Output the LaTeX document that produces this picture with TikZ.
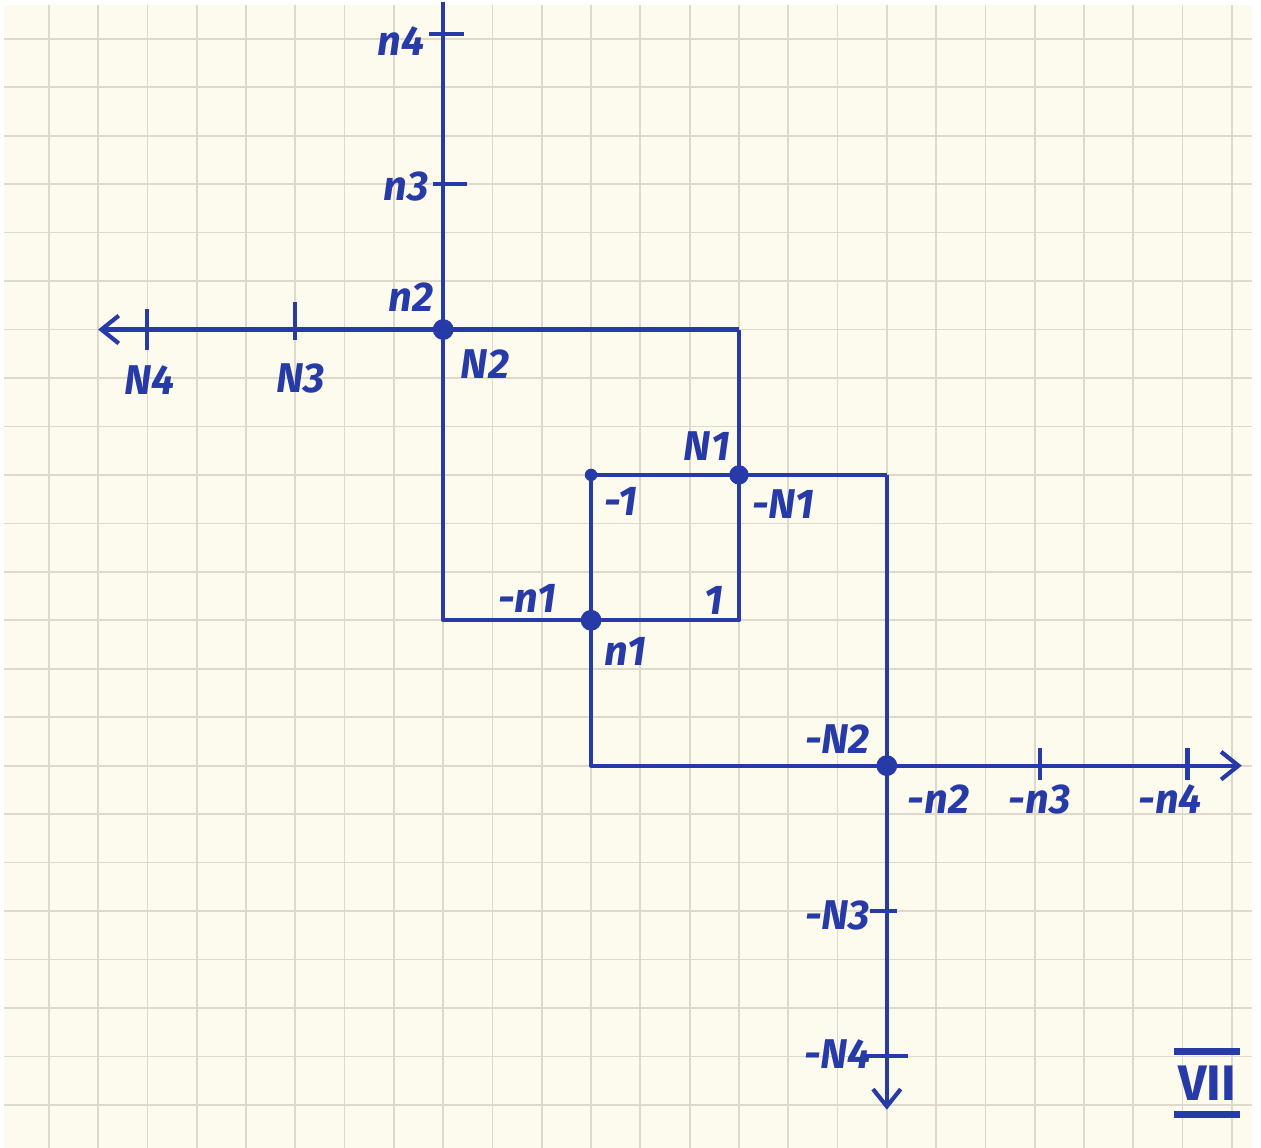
\documentclass[tikz,border=0pt]{standalone}
\usepackage{fontspec}
\newfontfamily\handfont{Fira Sans}
\usetikzlibrary{arrows.meta}
\definecolor{ink}{RGB}{38,58,168}
\definecolor{paper}{RGB}{253,250,238}
\definecolor{gridline}{RGB}{222,217,203}
\tikzset{
  axisline/.style={ink, line width=1.2pt, line join=round},
  tickmark/.style={ink, line width=1.2pt},
  lbl/.style={ink, font=\handfont\itshape\bfseries\large, inner sep=1pt},
  barb/.style={-{Straight Barb[length=5pt,width=8pt,line width=1.2pt]}}
}
\begin{document}
\begin{tikzpicture}[x=0.5cm,y=0.4915cm]
\useasboundingbox (-8.99,-16.89) rectangle (16.59,6.80);
\fill[white] (-8.99,-16.89) rectangle (16.59,6.80);
\fill[paper] (-8.9,-16.89) rectangle (16.4,6.7);
% squared paper
\foreach \x in {-8,...,16}
  \draw[gridline, line width=0.5pt] (\x,-16.89) -- (\x,6.7);
\foreach \y in {-16,...,6}
  \draw[gridline, line width=0.5pt] (-8.9,\y) -- (16.4,\y);

% corners of the path
\coordinate (top) at (0,6.75);
\coordinate (N2) at (0,0);
\coordinate (TR) at (6,0);
\coordinate (west) at (-7,0);
\coordinate (BL) at (0,-6);
\coordinate (STL) at (3,-3);
\coordinate (N1) at (6,-3);
\coordinate (n1) at (3,-6);
\coordinate (SBR) at (6,-6);
\coordinate (RTR) at (9,-3);
\coordinate (mN2) at (9,-9);
\coordinate (BBL) at (3,-9);
\coordinate (east) at (16.2,-9);
\coordinate (south) at (9,-16.1);

\draw[axisline] (top) -- (BL) -- (SBR) -- (TR);
\draw[axisline, barb] (TR) -- (west);
\draw[axisline] (STL) -- (RTR);
\draw[axisline, barb] (RTR) -- (south);
\draw[axisline, barb] (STL) -- (BBL) -- (east);

% ticks
\coordinate (tN4) at (-6,0);
\coordinate (tN3) at (-3,0);
\coordinate (tn4) at (0,6.1);
\coordinate (tn3) at (0,3);
\coordinate (tmn3) at (12.1,-9);
\coordinate (tmn4) at (15.1,-9);
\coordinate (tmN3) at (9,-12);
\coordinate (tmN4) at (9,-15);
\draw[tickmark] ([yshift=-6pt]tN4) -- ([yshift=6pt]tN4);
\draw[tickmark] ([yshift=-3pt]tN3) -- ([yshift=8pt]tN3);
\draw[tickmark] ([xshift=-4pt]tn4) -- ([xshift=6pt]tn4);
\draw[tickmark] ([xshift=-3pt]tn3) -- ([xshift=7pt]tn3);
\draw[tickmark] ([yshift=-4pt]tmn3) -- ([yshift=5pt]tmn3);
\draw[tickmark] ([yshift=-4pt]tmn4) -- ([yshift=5pt]tmn4);
\draw[tickmark] ([xshift=-5pt]tmN3) -- ([xshift=3pt]tmN3);
\draw[tickmark] ([xshift=-6pt]tmN4) -- ([xshift=6pt]tmN4);

% points
\fill[ink] (N2) circle (3pt);
\fill[ink] (N1) circle (2.8pt);
\fill[ink] (n1) circle (3pt);
\fill[ink] (mN2) circle (3pt);
\fill[ink] (STL) circle (1.8pt);

% labels
\node[lbl] (ln4) at (-0.85,5.95) {n4};
\node[lbl] (ln3) at (-0.75,2.95) {n3};
\node[lbl] (ln2) at (-0.65,0.66) {n2};
\node[lbl] (lN2) at (0.85,-0.72) {N2};
\node[lbl] (lN4) at (-5.95,-1.05) {N4};
\node[lbl] (lN3) at (-2.9,-1.0) {N3};
\node[lbl] (lN1) at (5.35,-2.4) {N1};
\node[lbl] (lmN1) at (6.9,-3.6) {-N1};
\node[lbl] (lm1) at (3.6,-3.55) {-1};
\node[lbl] (l1) at (5.5,-5.6) {1};
\node[lbl] (lmn1) at (1.7,-5.55) {-n1};
\node[lbl] (ln1) at (3.7,-6.65) {n1};
\node[lbl] (lmN2) at (8.0,-8.45) {-N2};
\node[lbl] (lmn2) at (10.05,-9.7) {-n2};
\node[lbl] (lmn3) at (12.1,-9.7) {-n3};
\node[lbl] (lmn4) at (14.75,-9.7) {-n4};
\node[lbl] (lmN3) at (8.0,-12.1) {-N3};
\node[lbl] (lmN4) at (8.0,-14.95) {-N4};
\node[ink, font=\handfont\bfseries\Large, inner sep=1pt] (vii) at (15.5,-15.55) {VII};
\draw[ink, line width=2pt] ([yshift=3pt]vii.north west) -- ([yshift=3pt]vii.north east);
\draw[ink, line width=2pt] ([yshift=-3pt]vii.south west) -- ([yshift=-3pt]vii.south east);
\end{tikzpicture}
\end{document}
